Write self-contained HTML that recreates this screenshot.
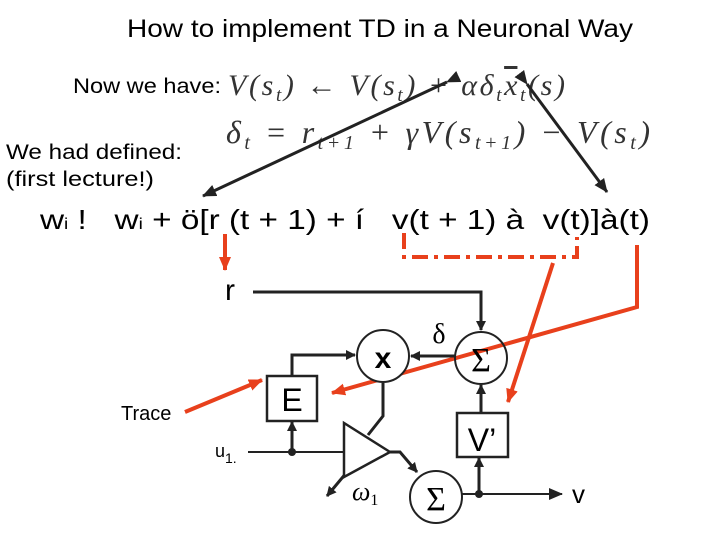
<!DOCTYPE html>
<html><head><meta charset="utf-8"><style>
body{margin:0;background:#fff;}
svg{display:block}
text{font-family:"Liberation Sans",sans-serif;}
.s{font-family:"Liberation Serif",serif;font-style:italic;}
</style></head><body>
<svg width="720" height="540" viewBox="0 0 720 540" xmlns="http://www.w3.org/2000/svg">
<defs>
<marker id="a" markerWidth="10" markerHeight="10" refX="9" refY="5" orient="auto" markerUnits="userSpaceOnUse"><path d="M0,0 L10,5 L0,10 Z" fill="#222"/></marker>
<marker id="ab" markerWidth="14" markerHeight="12" refX="13" refY="6" orient="auto" markerUnits="userSpaceOnUse"><path d="M0,0 L14,6 L0,12 Z" fill="#222"/></marker>
<marker id="r" markerWidth="14" markerHeight="12" refX="13" refY="6" orient="auto" markerUnits="userSpaceOnUse"><path d="M0,0 L14,6 L0,12 Z" fill="#e8401c"/></marker>
</defs>
<text x="127" y="37" font-size="25" textLength="506" lengthAdjust="spacingAndGlyphs">How to implement TD in a Neuronal Way</text>
<text x="73" y="93" font-size="21" textLength="148" lengthAdjust="spacingAndGlyphs">Now we have:</text>
<text x="228" y="95" font-size="30" class="s" fill="#333" textLength="337" lengthAdjust="spacing">V(s<tspan font-size="19" dy="6">t</tspan><tspan dy="-6">) ← V(s</tspan><tspan font-size="19" dy="6">t</tspan><tspan dy="-6">) + αδ</tspan><tspan font-size="19" dy="6">t</tspan><tspan dy="-6" text-decoration="overline">x</tspan><tspan font-size="19" dy="6">t</tspan><tspan dy="-6">(s)</tspan></text>
<text x="226" y="143" font-size="32" class="s" fill="#333" textLength="424" lengthAdjust="spacing">δ<tspan font-size="20" dy="6">t</tspan><tspan dy="-6"> = r</tspan><tspan font-size="20" dy="6">t+1</tspan><tspan dy="-6"> + γV(s</tspan><tspan font-size="20" dy="6">t+1</tspan><tspan dy="-6">) − V(s</tspan><tspan font-size="20" dy="6">t</tspan><tspan dy="-6">)</tspan></text>
<text x="6" y="159" font-size="21" textLength="176" lengthAdjust="spacingAndGlyphs">We had defined:</text>
<text x="6" y="186" font-size="21" textLength="148" lengthAdjust="spacingAndGlyphs">(first lecture!)</text>
<text x="40" y="229" font-size="28" textLength="610" lengthAdjust="spacingAndGlyphs">w<tspan font-size="16">i</tspan> !&#160;&#160; w<tspan font-size="16">i</tspan> + ö[r (t + 1) + í&#160;&#160; v(t + 1) à&#160; v(t)]à(t)</text>
<line x1="447" y1="82" x2="203" y2="196" stroke="#222" stroke-width="3" marker-end="url(#ab)" marker-start="url(#ab)"/>
<line x1="527" y1="84" x2="607" y2="192" stroke="#222" stroke-width="3" marker-end="url(#ab)" marker-start="url(#ab)"/>
<g stroke="#e8401c" stroke-width="4" fill="none">
<line x1="225" y1="234" x2="225" y2="270" marker-end="url(#r)"/>
<path d="M404 233 V257 H577 V237" stroke-dasharray="16,6,4,6"/>
<line x1="553" y1="263" x2="508" y2="402" marker-end="url(#r)"/>
<path d="M637 245 V307 L332 393" marker-end="url(#r)"/>
<line x1="185" y1="412" x2="262" y2="380" marker-end="url(#r)"/>
</g>
<text x="121" y="420" font-size="20">Trace</text>
<g stroke="#222" stroke-width="3" fill="none">
<path d="M253 292 H481 V330" marker-end="url(#a)"/>
<line x1="455" y1="356" x2="411" y2="356" marker-end="url(#a)"/>
<path d="M292 376 V355 H355" marker-end="url(#a)"/>
<path d="M383 383 V416 L368 435"/>
<line x1="248" y1="452" x2="344" y2="452" stroke-width="2"/>
<line x1="292" y1="452" x2="292" y2="422" marker-end="url(#a)"/>
<path d="M390 452 H400 L417 472" marker-end="url(#a)"/>
<line x1="347" y1="472" x2="327" y2="496" marker-end="url(#a)"/>
<line x1="462" y1="494" x2="562" y2="494" stroke-width="2" marker-end="url(#ab)"/>
<line x1="479" y1="494" x2="479" y2="458" marker-end="url(#a)"/>
<line x1="481" y1="413" x2="481" y2="385" marker-end="url(#a)"/>
<circle cx="383" cy="356" r="26" fill="#fff" stroke-width="2"/>
<circle cx="481" cy="358" r="26" fill="none" stroke-width="2"/>
<circle cx="436" cy="497" r="26" fill="#fff" stroke-width="2"/>
<rect x="267" y="376" width="50" height="45" stroke-width="2.5"/>
<rect x="457" y="413" width="51" height="44" stroke-width="2.5"/>
<path d="M344 423 L344 477 L390 452 Z" fill="#fff" stroke-width="2.5"/>
</g>
<circle cx="292" cy="452" r="4" fill="#222"/>
<circle cx="479" cy="494" r="4" fill="#222"/>
<text x="225" y="300" font-size="30">r</text>
<text x="383" y="368" font-size="30" font-weight="bold" text-anchor="middle">x</text>
<text x="439" y="343" font-size="28" class="s" style="font-style:normal" text-anchor="middle">δ</text>
<text x="481" y="371" font-size="34" class="s" style="font-style:normal" text-anchor="middle">Σ</text>
<text x="436" y="510" font-size="34" class="s" style="font-style:normal" text-anchor="middle">Σ</text>
<text x="292" y="411" font-size="32" text-anchor="middle">E</text>
<text x="482" y="451" font-size="32" text-anchor="middle">V’</text>
<text x="215" y="457" font-size="18">u<tspan font-size="14" dy="6">1.</tspan></text>
<text x="352" y="500" font-size="26" class="s">ω<tspan font-size="16" dy="5" style="font-style:normal">1</tspan></text>
<text x="572" y="503" font-size="26">v</text>
</svg>
</body></html>
